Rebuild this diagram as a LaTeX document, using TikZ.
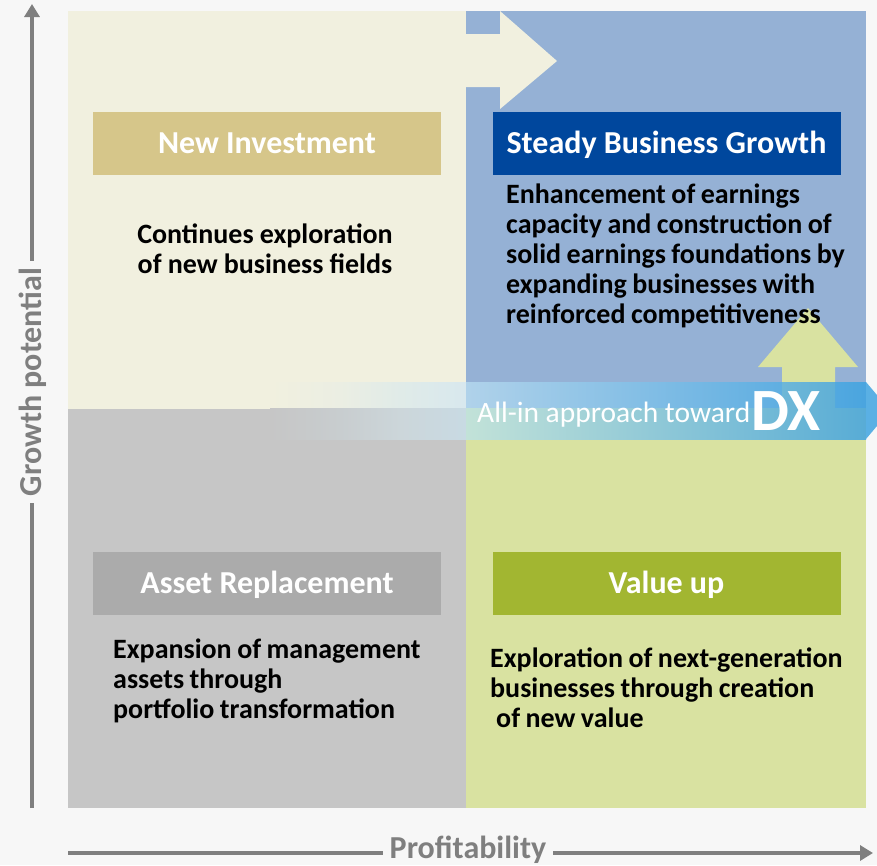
\documentclass[tikz,border=0pt]{standalone}
\usepackage{fontspec}
\setmainfont{Carlito}
\usetikzlibrary{arrows.meta}
\definecolor{bgc}{HTML}{F7F7F7}
\definecolor{qtl}{HTML}{F1F0DF}
\definecolor{qtr}{HTML}{95B1D5}
\definecolor{qbl}{HTML}{C6C6C6}
\definecolor{qbr}{HTML}{D9E2A1}
\definecolor{hni}{HTML}{D6C68A}
\definecolor{hsb}{HTML}{00479D}
\definecolor{har}{HTML}{ABABAB}
\definecolor{hvu}{HTML}{A2B631}
\definecolor{axisgray}{HTML}{7F7F7F}
\definecolor{cA0}{HTML}{F1F0DF}
\definecolor{cA1}{HTML}{EBEEE3}
\definecolor{cA2}{HTML}{E0EBE8}
\definecolor{cA3}{HTML}{D8E8EE}
\definecolor{cB0}{HTML}{C6C6C6}
\definecolor{cB1}{HTML}{C8CDCF}
\definecolor{cB2}{HTML}{CCD6DA}
\definecolor{cB3}{HTML}{C8DAE3}
\definecolor{cC0}{HTML}{B0D2EA}
\definecolor{cC1}{HTML}{88C0E6}
\definecolor{cC2}{HTML}{4AA5DF}
\definecolor{cD0}{HTML}{C2E2D8}
\definecolor{cD1}{HTML}{8FCAD9}
\definecolor{cD2}{HTML}{58ACD6}
\definecolor{cE0}{HTML}{6EB7D7}
\definecolor{cE1}{HTML}{60B0D6}
\definecolor{cTip}{HTML}{5AB0E4}
\pgfdeclarehorizontalshading{bandA}{100bp}{color(0bp)=(cA0); color(25bp)=(cA0); color(42.9bp)=(cA1); color(58.2bp)=(cA2); color(75bp)=(cA3); color(100bp)=(cA3)}
\pgfdeclarehorizontalshading{bandB}{100bp}{color(0bp)=(cB0); color(25bp)=(cB0); color(42.9bp)=(cB1); color(58.2bp)=(cB2); color(75bp)=(cB3); color(100bp)=(cB3)}
\tikzset{
  quad/.style={draw=none},
  hdr/.style={minimum width=348pt, minimum height=63pt, inner sep=0pt, text=white,
    font=\bfseries\fontsize{32}{38}\selectfont, text height=20.2pt, text depth=0pt},
  body/.style={font=\bfseries\fontsize{28}{30}\selectfont, inner sep=0pt, text=black,
    execute at begin node={\spaceskip=5.5pt plus 1pt minus 1pt\relax}},
  axisline/.style={line width=3.5pt, draw=axisgray},
  axisarrow/.style={axisline, -{Triangle[width=15pt,length=13pt]}},
  axislabel/.style={text=axisgray, font=\bfseries\fontsize{32}{36}\selectfont, inner sep=7pt},
  bandtext/.style={text=white, inner sep=0pt}
}
\begin{document}
\begin{tikzpicture}[x=1pt,y=-1pt]
\useasboundingbox (0,0) rectangle (877,865);
\fill[bgc] (0,0) rectangle (877,865);
% quadrants
\fill[qtl] (68,11) rectangle (466,408.5);
\fill[qtr] (466,11) rectangle (866,408.5);
\fill[qbl] (68,408.5) rectangle (466,808);
\fill[qbr] (466,408.5) rectangle (866,808);
% arrow from top-left quadrant into top-right
\fill[qtl] (466,34) -- (500,34) -- (500,11) -- (557,61) -- (500,109) -- (500,87) -- (466,87) -- cycle;
% arrow from bottom-right quadrant upward
\fill[qbr] (782,408.5) -- (782,367) -- (758,367) -- (808,308) -- (858,367) -- (835,367) -- (835,408.5) -- cycle;
% headers
\node[hdr, fill=hni] (ni) at (267,143.5) {New Investment};
\node[hdr, fill=hsb] (sb) at (666.5,143.5) {Steady Business Growth};
\node[hdr, fill=har] (ar) at (267,583.5) {Asset Replacement};
\node[hdr, fill=hvu] (vu) at (666.5,583.5) {Value up};
% body texts
\node[body, anchor=base, text width=330pt, align=center] (nit) at (265,243) {Continues exploration\\of new business fields};
\node[body, anchor=base west, text width=365pt, align=left] (sbt) at (506,203) {Enhancement of earnings\\capacity and construction of\\solid earnings foundations by\\expanding businesses with\\reinforced competitiveness};
\node[body, anchor=base west, text width=345pt, align=left] (art) at (113,658) {Expansion of management\\assets through\\portfolio transformation};
\node[body, anchor=base west, text width=375pt, align=left] (vut) at (490,667) {Exploration of next-generation\\businesses through creation\\\hspace*{6pt}of new value};
% DX band
\shade[shading=bandA] (270,382) rectangle (466,408.5);
\shade[shading=bandB] (270,408.5) rectangle (466,439);
\shade[left color=cC0, middle color=cC1, right color=cC2] (466,382) rectangle (866,408.5);
\shade[left color=cD0, middle color=cD1, right color=cD2] (466,408.5) rectangle (866,439);
\shade[left color=cE0, right color=cE1] (782,382) rectangle (835,408.5);
\fill[cTip] (866,382) -- (890,410.5) -- (866,439) -- cycle;
\node[bandtext, anchor=base west, font=\fontsize{29.5}{32}\selectfont] (allin) at (477,422) {All-in approach toward};
\node[bandtext, anchor=base west, font=\bfseries\fontsize{60}{64}\selectfont] (dx) at (751,430) {DX};
% axes
\node[axislabel, rotate=90] (gp) at (33,382) {Growth potential};
\coordinate (yb) at (32,808);
\coordinate (yt) at (32,4);
\draw[axisline] (yb) -- (yb |- gp.west);
\draw[axisarrow] (yt |- gp.east) -- (yt);
\node[axislabel] (pf) at (468,850) {Profitability};
\coordinate (xl) at (68,853);
\coordinate (xr) at (873,853);
\draw[axisline] (xl) -- (xl -| pf.west);
\draw[axisarrow] (xr -| pf.east) -- (xr);
\end{tikzpicture}
\end{document}
